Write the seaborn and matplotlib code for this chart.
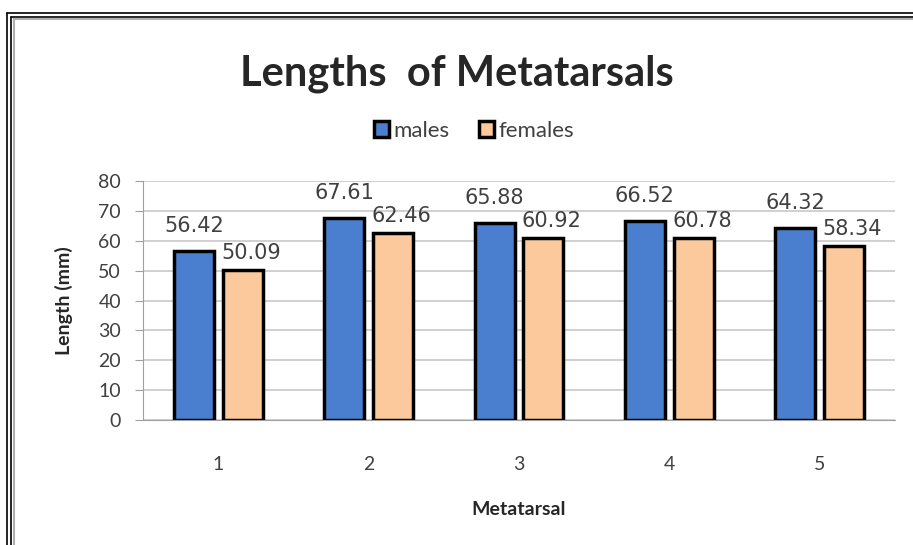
import matplotlib
matplotlib.use("Agg")
import matplotlib.pyplot as plt
import seaborn as sns
import pandas as pd
from matplotlib.lines import Line2D

# chart data
metatarsals = ["1", "2", "3", "4", "5"]
males = [56.42, 67.61, 65.88, 66.52, 64.32]
females = [50.09, 62.46, 60.92, 60.78, 58.34]

df = pd.DataFrame({
    "Metatarsal": metatarsals * 2,
    "Length": males + females,
    "sex": ["males"] * 5 + ["females"] * 5,
})

sns.set_style("white")
plt.rcParams["font.family"] = ["Lato", "DejaVu Sans"]

fig = plt.figure(figsize=(9.13, 5.45), dpi=100)
ax = fig.add_axes([0.157, 0.229, 0.823, 0.439])

sns.barplot(data=df, x="Metatarsal", y="Length", hue="sex",
            palette={"males": "#4a7fcf", "females": "#fcc99c"},
            width=0.65, gap=0.18, edgecolor="black", linewidth=2.5,
            saturation=1, ax=ax)

# value labels: males sit higher, females nudged right (as in the original)
for c, pad, dx in zip(ax.containers, (11, 5), (0, 6)):
    for ann in ax.bar_label(c, fmt="%.2f", padding=pad, fontsize=15,
                            color="#404040", family="DejaVu Sans"):
        ann.xyann = (dx, pad)

ax.set_ylim(0, 80)
ax.set_xlim(-0.5, 4.5)
ax.set_yticks(range(0, 81, 10))
ax.yaxis.grid(True, color="#c8c8c8", linewidth=1.2)
ax.set_axisbelow(True)
for s in ["top", "right"]:
    ax.spines[s].set_visible(False)
ax.spines["left"].set_color("#a0a0a0")
ax.spines["bottom"].set_color("#a0a0a0")
ax.tick_params(axis="y", length=6, color="#a0a0a0", labelsize=14,
               labelcolor="#404040", left=True, pad=10)
ax.tick_params(axis="x", length=0, labelsize=14, labelcolor="#404040", pad=26)

ax.set_xlabel("Metatarsal", fontsize=14, fontweight="bold", labelpad=20)
ax.set_ylabel("Length (mm)", fontsize=14, fontweight="bold", labelpad=18)

fig.suptitle("Lengths  of Metatarsals", fontsize=30, fontweight="bold", y=0.90)

ax.legend(loc="center", bbox_to_anchor=(0.44, 1.21), ncol=2, frameon=False,
          fontsize=16, handlelength=0.7, handleheight=0.7, handletextpad=0.2,
          columnspacing=1.3, labelcolor="#404040")

# double frame around the chart
W, H = 913, 545
for x in (7, 11):
    fig.add_artist(Line2D([x / W, x / W], [0, 1 - 13 / H if x == 7 else 1 - 17 / H],
                          color="black", linewidth=1.2, transform=fig.transFigure))
for y, x0 in ((13, 7), (17, 11)):
    fig.add_artist(Line2D([x0 / W, 1], [1 - y / H, 1 - y / H],
                          color="black", linewidth=1.2, transform=fig.transFigure))
fig.add_artist(Line2D([14 / W, 14 / W], [0, 1 - 19 / H], color="#b0b0b0",
                      linewidth=1.5, transform=fig.transFigure))
fig.add_artist(Line2D([14 / W, 1], [1 - 19 / H, 1 - 19 / H], color="#b0b0b0",
                      linewidth=1.5, transform=fig.transFigure))

fig.savefig("out.png", dpi=100)
